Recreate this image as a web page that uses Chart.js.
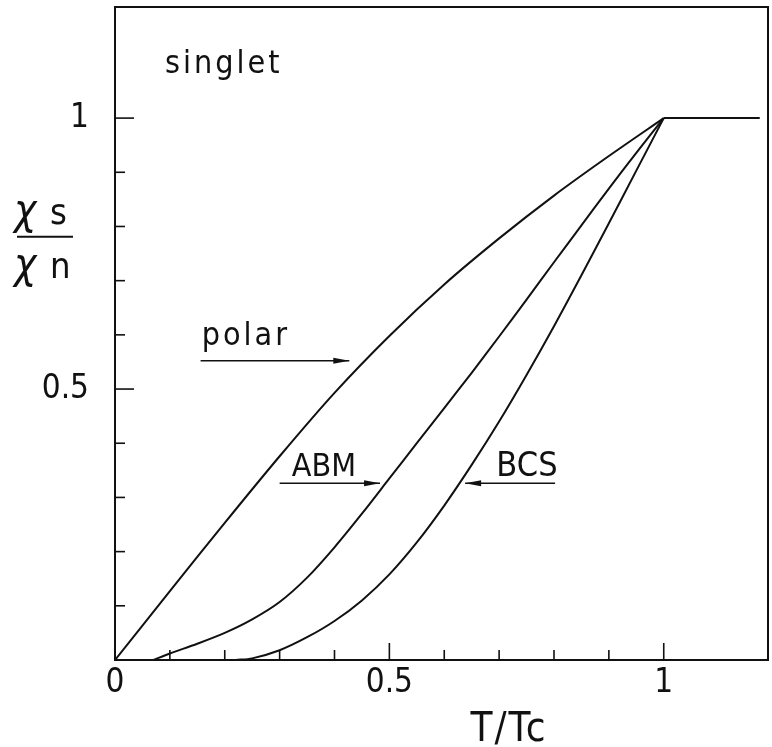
<!DOCTYPE html>
<html>
<head>
<meta charset="utf-8">
<script src="https://cdn.jsdelivr.net/npm/chart.js@4.4.1/dist/chart.umd.min.js"></script>
<style>
  html, body { margin: 0; padding: 0; background: #fff; }
  #wrap { width: 772px; height: 747px; position: relative; }
</style>
</head>
<body>
<div id="wrap"><canvas id="chiChart"></canvas></div>
<script>
// reduced temperature T/Tc and chi_s/chi_n
const polarT   = [0, 0.1, 0.2, 0.3, 0.4, 0.5, 0.6, 0.7, 0.8, 0.9, 1.0];
const polarChi = [0, 0.127, 0.253, 0.376, 0.493, 0.598, 0.693, 0.778, 0.857, 0.930, 1.0];

// normal state above Tc
const normalT   = [1.0, 1.175];
const normalChi = [1.0, 1.0];

const abmT   = [0.07, 0.1, 0.15, 0.2, 0.25, 0.3, 0.35, 0.4, 0.45, 0.5, 0.55, 0.6, 0.65, 0.7, 0.75, 0.8, 0.85, 0.9, 0.95, 1.0];
const abmChi = [0, 0.012, 0.030, 0.050, 0.075, 0.107, 0.152, 0.208, 0.270, 0.335, 0.400, 0.465, 0.530, 0.597, 0.665, 0.734, 0.802, 0.870, 0.936, 1.0];

const bcsT   = [0.22, 0.25, 0.3, 0.35, 0.4, 0.45, 0.5, 0.55, 0.6, 0.65, 0.7, 0.75, 0.8, 0.85, 0.9, 0.95, 1.0];
const bcsChi = [0, 0.003, 0.018, 0.042, 0.072, 0.110, 0.158, 0.217, 0.285, 0.360, 0.440, 0.526, 0.616, 0.710, 0.806, 0.903, 1.0];

const xTickLabels = { 0: '0', 0.5: '0.5', 1: '1' };
const yTickLabels = { 0.5: '0.5', 1: '1' };

const ink = '#111';
const fontFamily = "'Liberation Sans Narrow', 'DejaVu Sans Condensed', 'DejaVu Sans', sans-serif";

const toPoints = (xs, ys) => xs.map((x, i) => ({ x: x, y: ys[i] }));

const labelFor = (table, v) => {
    for (const k in table) {
        if (Math.abs(v - Number(k)) < 1e-6) return table[k];
    }
    return '';
};

// curve labels and their arrows, in data units
const curveLabels = [
    { text: 'singlet', x: 0.091, y: 1.083, size: 32, spacing: 3 },
    { text: 'polar',   x: 0.158, y: 0.582, size: 32, spacing: 3 },
    { text: 'ABM',     x: 0.322, y: 0.339, size: 32, spacing: 0 },
    { text: 'BCS',     x: 0.695, y: 0.339, size: 34, spacing: 0 }
];
const arrows = [
    { from: [0.156, 0.552], to: [0.427, 0.552] },
    { from: [0.300, 0.326], to: [0.483, 0.326] },
    { from: [0.802, 0.326], to: [0.638, 0.326] }
];

const decorations = {
    id: 'decorations',
    afterDraw(chart) {
        const { ctx, chartArea: a, scales: { x, y } } = chart;
        ctx.save();
        ctx.strokeStyle = ink;
        ctx.fillStyle = ink;

        // frame
        ctx.lineWidth = 2;
        ctx.strokeRect(a.left, a.top, a.right - a.left, a.bottom - a.top);

        // inward tick marks
        ctx.lineWidth = 1.6;
        x.ticks.forEach(t => {
            if (t.value <= 0.001 || t.value > 1.001) return;
            const px = x.getPixelForValue(t.value);
            const len = labelFor(xTickLabels, t.value) ? 17 : 10;
            ctx.beginPath();
            ctx.moveTo(px, a.bottom);
            ctx.lineTo(px, a.bottom - len);
            ctx.stroke();
        });
        y.ticks.forEach(t => {
            if (t.value <= 0.001 || t.value > 1.001) return;
            const py = y.getPixelForValue(t.value);
            const len = labelFor(yTickLabels, t.value) ? 19 : 10;
            ctx.beginPath();
            ctx.moveTo(a.left, py);
            ctx.lineTo(a.left + len, py);
            ctx.stroke();
        });

        // curve labels
        ctx.textBaseline = 'alphabetic';
        ctx.textAlign = 'left';
        curveLabels.forEach(l => {
            ctx.font = l.size + 'px ' + fontFamily;
            ctx.letterSpacing = l.spacing + 'px';
            ctx.fillText(l.text, x.getPixelForValue(l.x), y.getPixelForValue(l.y));
        });
        ctx.letterSpacing = '0px';

        // arrows
        ctx.lineWidth = 1.5;
        arrows.forEach(ar => {
            const x0 = x.getPixelForValue(ar.from[0]), y0 = y.getPixelForValue(ar.from[1]);
            const x1 = x.getPixelForValue(ar.to[0]), y1 = y.getPixelForValue(ar.to[1]);
            const dir = Math.sign(x1 - x0);
            ctx.beginPath();
            ctx.moveTo(x0, y0);
            ctx.lineTo(x1, y1);
            ctx.stroke();
            ctx.beginPath();
            ctx.moveTo(x1, y1);
            ctx.lineTo(x1 - dir * 16, y1 - 3);
            ctx.lineTo(x1 - dir * 16, y1 + 3);
            ctx.closePath();
            ctx.fill();
        });

        // y axis title: chi_s over chi_n
        const barY = y.getPixelForValue(0.781);
        const cx = a.left - 71;
        ctx.lineWidth = 2;
        ctx.beginPath();
        ctx.moveTo(cx - 27, barY);
        ctx.lineTo(cx + 29, barY);
        ctx.stroke();
        ctx.font = 'italic 42px ' + fontFamily;
        ctx.textAlign = 'left';
        ctx.fillText('χ', cx - 30, barY - 13);
        ctx.fillText('χ', cx - 30, barY + 41);
        ctx.font = '36px ' + fontFamily;
        ctx.fillText('s', cx + 6, barY - 13);
        ctx.fillText('n', cx + 6, barY + 41);

        // x axis title
        ctx.font = '40px ' + fontFamily;
        ctx.letterSpacing = '2px';
        ctx.textAlign = 'center';
        ctx.fillText('T/Tc', x.getPixelForValue(0.718), x.bottom - 6);

        ctx.restore();
    }
};

const ctx = document.getElementById('chiChart').getContext('2d');
new Chart(ctx, {
    type: 'line',
    data: {
        datasets: [
            { label: 'polar', data: toPoints(polarT, polarChi) },
            { label: 'normal', data: toPoints(normalT, normalChi), tension: 0 },
            { label: 'ABM', data: toPoints(abmT, abmChi) },
            { label: 'BCS', data: toPoints(bcsT, bcsChi) }
        ]
    },
    options: {
        responsive: true,
        maintainAspectRatio: false,
        animation: false,
        layout: { padding: { top: 7, right: 4, left: 0, bottom: 0 } },
        plugins: {
            legend: { display: false },
            tooltip: { enabled: false }
        },
        elements: {
            point: { radius: 0 },
            line: { borderWidth: 2, borderColor: ink, fill: false, tension: 0.3 }
        },
        scales: {
            x: {
                type: 'linear',
                min: 0,
                max: 1.19,
                afterFit: s => { s.height = 87; s.paddingLeft = 0; s.paddingRight = 0; },
                grid: { display: false, drawTicks: false },
                border: { display: false },
                ticks: {
                    stepSize: 0.1,
                    autoSkip: false,
                    maxRotation: 0,
                    padding: 4,
                    color: ink,
                    font: { family: fontFamily, size: 33 },
                    callback: v => labelFor(xTickLabels, v)
                }
            },
            y: {
                type: 'linear',
                min: 0,
                max: 1.205,
                afterFit: s => { s.width = 115; s.paddingTop = 0; s.paddingBottom = 0; },
                grid: { display: false, drawTicks: false },
                border: { display: false },
                ticks: {
                    stepSize: 0.1,
                    autoSkip: false,
                    padding: 26,
                    color: ink,
                    font: { family: fontFamily, size: 33 },
                    callback: v => labelFor(yTickLabels, v)
                }
            }
        }
    },
    plugins: [decorations]
});
</script>
</body>
</html>
